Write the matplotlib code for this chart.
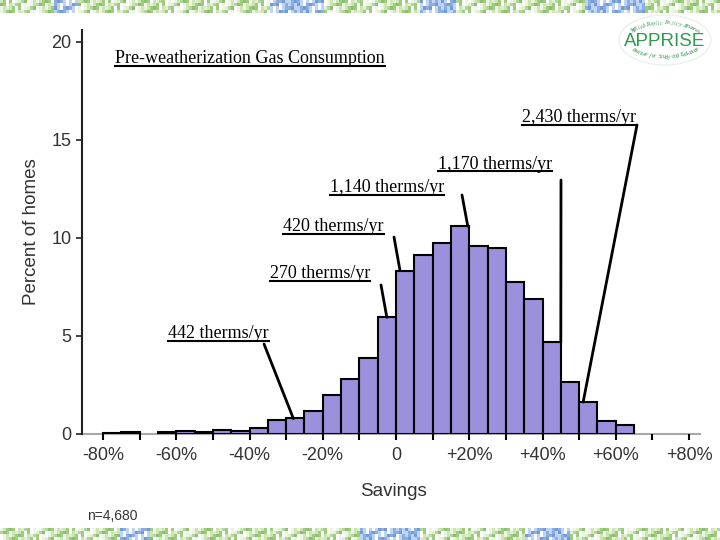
import numpy as np
import matplotlib
matplotlib.use("Agg")
import matplotlib.pyplot as plt
from matplotlib.lines import Line2D
from matplotlib.patches import Ellipse

# ---------------- data ----------------
bin_left = list(range(-80, 65, 5))          # 5%-wide savings bins
percent = [0.05, 0.08, 0.0, 0.08, 0.17, 0.12, 0.20, 0.13, 0.31, 0.72,
           0.80, 1.18, 2.00, 2.80, 3.88, 5.95, 8.33, 9.13, 9.73, 10.63,
           9.59, 9.51, 7.74, 6.87, 4.68, 2.67, 1.65, 0.66, 0.44]
bin_width = 5
yticks = [0, 5, 10, 15, 20]
xticks_major = [-80, -60, -40, -20, 0, 20, 40, 60, 80]
xtick_labels = ["-80%", "-60%", "-40%", "-20%", "0", "+20%", "+40%", "+60%", "+80%"]
xticks_minor = [-70, -50, -30, -10, 10, 30, 50, 70]

title_text = "Pre-weatherization Gas Consumption"
ann_labels = ["2,430 therms/yr", "1,170 therms/yr", "1,140 therms/yr",
              "420 therms/yr", "270 therms/yr", "442 therms/yr"]
# bar-top points the callout lines point to (savings %, percent)
ann_targets = [(51.1, 1.63), (45.0, 4.68), (19.6, 10.60),
               (1.1, 8.33), (-2.5, 5.95), (-28.0, 0.78)]

W, H = 720, 540
SANS = ["Liberation Sans", "DejaVu Sans"]
SERIF = ["Liberation Serif", "DejaVu Serif"]

def fpx(x, y):
    return (x / W, 1 - y / H)

fig = plt.figure(figsize=(7.2, 5.4), dpi=100)
fig.patch.set_facecolor("white")

# ---------------- decorative strips ----------------
greens = [(0.80, 0.90, 0.70), (0.62, 0.80, 0.50), (0.88, 0.94, 0.82),
          (0.70, 0.85, 0.60), (0.93, 0.96, 0.90), (0.55, 0.75, 0.45)]
blues = [(0.55, 0.68, 0.88), (0.75, 0.83, 0.95), (0.45, 0.60, 0.85)]
def strip(seed_shift, blue_ranges):
    ncol, nrow = 240, 4
    img = np.ones((nrow, ncol, 3))
    for r in range(nrow):
        for c in range(ncol):
            k = (c * 7 + r * 5 + seed_shift + (c // 3) * 2) % 11
            in_blue = any(a <= c < b for a, b in blue_ranges)
            if k in (3, 8):
                img[r, c] = (1, 1, 1)
            elif in_blue:
                img[r, c] = blues[k % len(blues)]
            else:
                img[r, c] = greens[k % len(greens)]
    return img
ax_top = fig.add_axes([0, 1 - 13 / H, 1, 13 / H])
ax_top.imshow(strip(0, [(18, 26), (90, 108), (140, 152), (195, 215)]), aspect="auto", interpolation="nearest")
ax_top.axis("off")
ax_bot = fig.add_axes([0, 0, 1, 12 / H])
ax_bot.imshow(strip(4, [(40, 50), (120, 140), (175, 190)]), aspect="auto", interpolation="nearest")
ax_bot.axis("off")

# ---------------- main axes ----------------
px_per_pct = 3.6625
x0 = 396
xl = ((82 - x0) / px_per_pct, (700 - x0) / px_per_pct)
ax = fig.add_axes([82 / W, 1 - 434 / H, (700 - 82) / W, (434 - 30) / H])
ax.set_xlim(*xl)
ax.set_ylim(0, (434 - 30) / 19.6)

lefts = [l for l, p in zip(bin_left, percent) if p > 0]
vals = [p for p in percent if p > 0]
ax.bar(lefts, vals, width=bin_width, align="edge", color="#9b90dc",
       edgecolor="black", linewidth=1.5, zorder=3)

for s in ["top", "right"]:
    ax.spines[s].set_visible(False)
ax.spines["left"].set_color("#222222")
ax.spines["left"].set_linewidth(1.5)
ax.spines["bottom"].set_color("#a8a8a8")
ax.spines["bottom"].set_linewidth(1.5)
ax.spines["bottom"].set_zorder(1)

ax.set_yticks(yticks)
ax.set_yticklabels([str(v) for v in yticks])
ax.set_xticks(xticks_major)
ax.set_xticklabels(xtick_labels)
ax.set_xticks(xticks_minor, minor=True)
ax.tick_params(axis="y", direction="out", length=4.5, width=1.2, color="#222222",
               labelsize=13, labelcolor="#333333", pad=3)
ax.tick_params(axis="x", which="both", direction="out", length=4.5, width=1.5,
               color="black", labelsize=13, labelcolor="#333333", pad=5)
for t in ax.get_xticklabels() + ax.get_yticklabels():
    t.set_fontfamily(SANS)

fig.text(*fpx(32, 232), "Percent of homes", rotation=90, ha="center", va="center",
         fontsize=13.5, color="#333333", family=SANS)
fig.text(*fpx(393, 492), "Savings", ha="center", va="center",
         fontsize=13.5, color="#333333", family=SANS)
fig.text(*fpx(87, 516), "n=4,680", ha="left", va="center",
         fontsize=10, color="#333333", family=SANS)

# ---------------- annotations ----------------
# text left x, baseline y (pixels), line start (pixels)
text_pos = [(522, 122), (438, 169), (330, 192), (283, 231), (270, 278), (168, 338)]
line_start = [(637, 125), (561, 180), (462, 195), (394, 237), (381, 285), (264, 344)]

texts = []
t = fig.text(*fpx(115, 63), title_text, ha="left", va="baseline", fontsize=13,
             family=SERIF, color="black")
texts.append(t)
for lab, (tx, ty) in zip(ann_labels, text_pos):
    t = fig.text(*fpx(tx, ty), lab, ha="left", va="baseline", fontsize=13,
                 family=SERIF, color="black")
    texts.append(t)

for (sx, sy), tgt in zip(line_start, ann_targets):
    ax.annotate("", xy=tgt, xycoords="data", xytext=fpx(sx, sy),
                textcoords="figure fraction",
                arrowprops=dict(arrowstyle="-", lw=2, color="black",
                                shrinkA=0, shrinkB=0), zorder=5)

# underline the serif texts
fig.canvas.draw()
r = fig.canvas.get_renderer()
baselines = [63] + [p[1] for p in text_pos]
for t, by in zip(texts, baselines):
    bb = t.get_window_extent(r)
    yline = (H - by - 2.5) / H
    fig.add_artist(Line2D([bb.x0 / W, bb.x1 / W], [yline, yline],
                          transform=fig.transFigure, color="black", lw=1.5))

# ---------------- logo ----------------
green = "#2f9a4c"
cx, cy = 665, 40
fig.add_artist(Ellipse(fpx(cx, cy), 92 / W, 50 / H, transform=fig.transFigure,
                       facecolor="white", edgecolor="#e6efe6", lw=0.8))
fig.text(*fpx(cx, cy + 1), "APPRISE", ha="center", va="center", fontsize=13.5,
         color=green, family=SANS)

def arc_text(s, rx, ry, a0, a1, top=True):
    n = len(s)
    for i, ch in enumerate(s):
        a = np.radians(a0 + (a1 - a0) * (i + 0.5) / n)
        x = cx + rx * np.cos(a)
        y = cy - ry * np.sin(a) if top else cy - ry * np.sin(a)
        rot = np.degrees(a) - 90 if top else np.degrees(a) + 90
        fig.text(*fpx(x, y), ch, ha="center", va="center", fontsize=4.2,
                 rotation=rot, color=green, family=SERIF, fontstyle="italic")

arc_text("Applied Public Policy Research", 38, 17, 150, 30, top=True)
arc_text("Institute for Study and Evaluation", 38, 17, 210, 330, top=False)

fig.savefig("out.png", dpi=100)
